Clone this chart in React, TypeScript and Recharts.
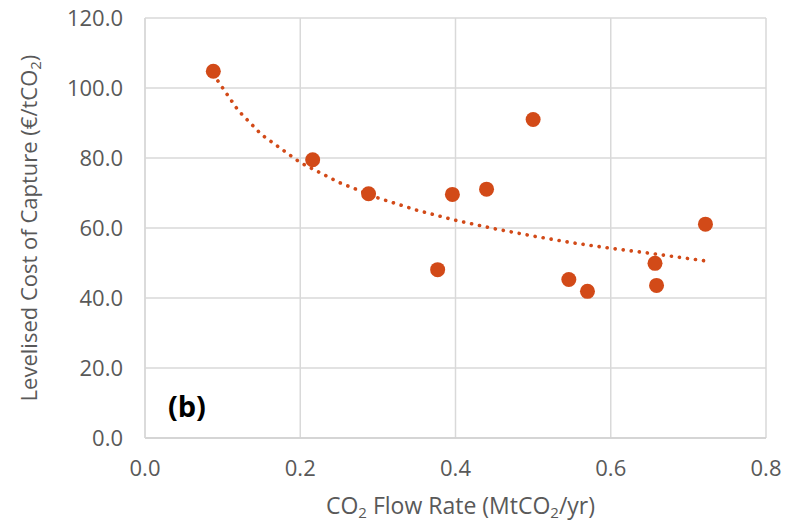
import React from 'react';
import { ScatterChart, Scatter, XAxis, YAxis, CartesianGrid, ReferenceDot } from 'recharts';

const flowRate = [0.088, 0.216, 0.288, 0.377, 0.396, 0.440, 0.500, 0.546, 0.570, 0.657, 0.659, 0.722];
const costOfCapture = [104.8, 79.5, 69.8, 48.1, 69.6, 71.1, 91.0, 45.3, 41.9, 49.9, 43.6, 61.1];

const trendX = [0.088, 0.12, 0.15, 0.2, 0.25, 0.3, 0.35, 0.4, 0.45, 0.5, 0.55, 0.6, 0.65, 0.722];
const trendY = [103.9, 93.6, 86.7, 78.7, 73.0, 68.6, 65.1, 62.2, 59.8, 57.7, 55.8, 54.2, 52.8, 50.6];

const xTicks = [0, 0.2, 0.4, 0.6, 0.8];
const yTicks = [0, 20, 40, 60, 80, 100, 120];

const points = flowRate.map((x, i) => ({ x, y: costOfCapture[i] }));
const trend = trendX.map((x, i) => ({ x, y: trendY[i] }));

const ORANGE = '#D24A18';
const TEXT = '#595959';
const FONT = '"Open Sans", sans-serif';

const XTitle = (props: any) => {
  const vb = props.viewBox || {};
  const cx = vb.x + vb.width / 2 + 5;
  const y = vb.y + 76;
  return (
    <text x={cx} y={y} textAnchor="middle" fill={TEXT} fontSize={23} fontFamily={FONT}>
      CO<tspan dy={4} fontSize={15}>2</tspan>
      <tspan dy={-4}> Flow Rate (MtCO</tspan>
      <tspan dy={4} fontSize={15}>2</tspan>
      <tspan dy={-4}>/yr)</tspan>
    </text>
  );
};

const YTitle = (props: any) => {
  const vb = props.viewBox || {};
  const cy = vb.y + vb.height / 2;
  const x = 37;
  return (
    <text x={x} y={cy} transform={`rotate(-90, ${x}, ${cy})`} textAnchor="middle" fill={TEXT} fontSize={22} fontFamily={FONT}>
      Levelised Cost of Capture (€/tCO<tspan dy={4} fontSize={15}>2</tspan>
      <tspan dy={-4}>)</tspan>
    </text>
  );
};

const NoShape = () => null;

export default function App() {
  return (
    <div style={{ position: 'absolute', left: 0, top: 0, background: '#fff' }}>
      <ScatterChart width={791} height={522} margin={{ top: 18, right: 25, bottom: 0, left: 0 }}>
        <CartesianGrid stroke="#d9d9d9" strokeWidth={1.5} />
        <XAxis
          type="number"
          dataKey="x"
          domain={[0, 0.8]}
          ticks={xTicks}
          tickFormatter={(v: number) => v.toFixed(1)}
          height={84}
          axisLine={{ stroke: '#d0d0d0', strokeWidth: 1.5 }}
          tickLine={false}
          tickMargin={16}
          tick={{ fill: TEXT, fontSize: 22, fontFamily: FONT }}
          label={<XTitle />}
          allowDataOverflow
        />
        <YAxis
          type="number"
          dataKey="y"
          domain={[0, 120]}
          ticks={yTicks}
          tickFormatter={(v: number) => v.toFixed(1)}
          width={145}
          axisLine={{ stroke: '#d9d9d9', strokeWidth: 1.5 }}
          tickLine={false}
          tickMargin={16}
          tick={{ fill: TEXT, fontSize: 22, fontFamily: FONT }}
          label={<YTitle />}
          allowDataOverflow
        />
        <Scatter
          data={trend}
          line={{ stroke: ORANGE, strokeWidth: 3.6, strokeDasharray: '0.1 8', strokeLinecap: 'round' }}
          lineType="joint"
          shape={NoShape}
          isAnimationActive={false}
        />
        <Scatter
          data={points}
          fill={ORANGE}
          shape={(p: any) => <circle cx={p.cx} cy={p.cy} r={7.5} fill={ORANGE} />}
          isAnimationActive={false}
        />
        <ReferenceDot
          x={0.054}
          y={8.8}
          r={0}
          fill="none"
          stroke="none"
          label={{ value: '(b)', position: 'center', fill: '#000', fontSize: 29, fontWeight: 'bold', fontFamily: FONT }}
        />
      </ScatterChart>
    </div>
  );
}
